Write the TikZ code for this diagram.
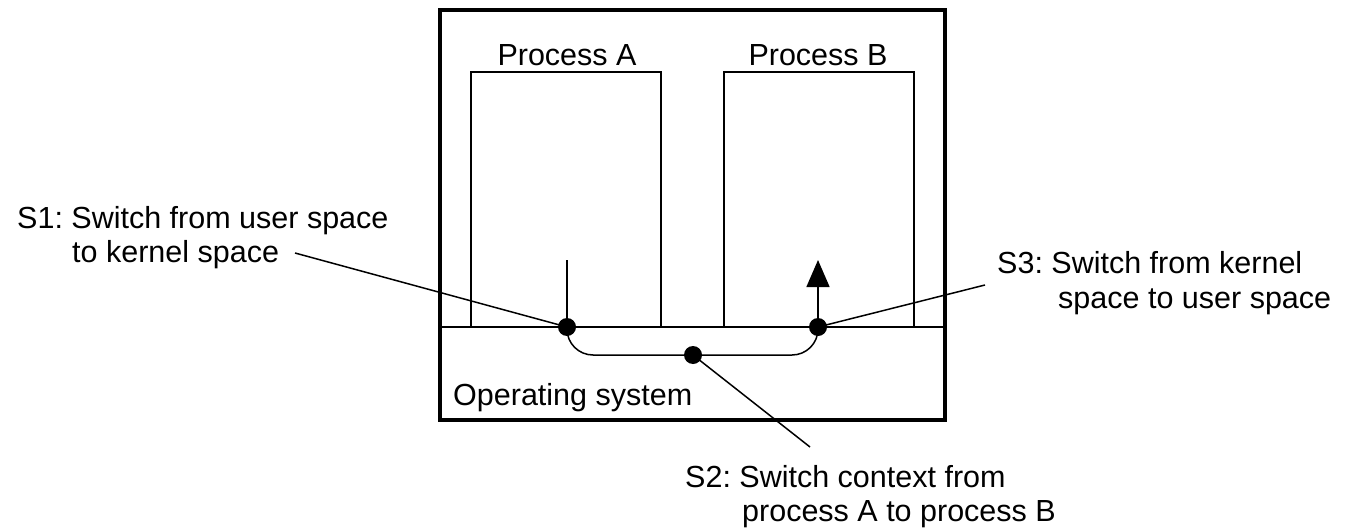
\documentclass[tikz,border=0pt]{standalone}
\usepackage{fontspec}
\setmainfont{Liberation Sans}
\usetikzlibrary{arrows.meta}
\frenchspacing
\begin{document}
\begin{tikzpicture}[x=1pt,y=-1pt,
  lbl/.style={anchor=base west,inner sep=0pt,font=\fontsize{30.5}{34}\selectfont},
  ptitle/.style={anchor=base,inner sep=0pt,font=\fontsize{30.5}{34}\selectfont},
  dot/.style={circle,fill=black,inner sep=0pt,minimum size=18pt},
  thin line/.style={line width=1.5pt},
  procbox/.style={draw,line width=1.4pt},
  outerbox/.style={draw,line width=4pt}]
\useasboundingbox (0,0) rectangle (1358,530);
% outer machine box
\draw[outerbox] (440,10) rectangle (945,420);
% user/kernel boundary
\coordinate (kl) at (440,327);
\coordinate (kr) at (945,327);
\draw[line width=2pt] (kl) -- (kr);
% process boxes
\draw[procbox] (471,327) -- (471,72) -- (661,72) -- (661,327);
\draw[procbox] (724,327) -- (724,72) -- (914,72) -- (914,327);
\node[ptitle] (pa) at (567,65) {Process A};
\node[ptitle] (pb) at (818,65) {Process B};
\node[lbl] (os) at (453,405) {Operating system};
% switch points
\node[dot] (d1) at (567,327) {};
\node[dot] (d3) at (818,327) {};
\node[dot] (d2) at (693,355) {};
\coordinate (a1) at (567,260);
\coordinate (b1) at (818,260);
\draw[thin line] (a1) -- (d1.center);
\draw[thin line,-{Triangle[length=27pt,width=23pt]}] (d3.center) -- (b1);
\draw[thin line,rounded corners=26pt] (d1.center) -- (567,355) -- (818,355) -- (d3.center);
% labels
\node[lbl] (s1a) at (17,228) {S1: Switch from user space};
\node[lbl] (s1b) at (72,262) {to kernel space};
\node[lbl] (s3a) at (997,273) {S3: Switch from kernel};
\node[lbl] (s3b) at (1058,308) {space to user space};
\node[lbl] (s2a) at (685,487) {S2: Switch context from};
\node[lbl] (s2b) at (742,521) {process A to process B};
% leader lines
\coordinate (s1end) at (295,253);
\coordinate (s3end) at (985,285);
\coordinate (s2end) at (810,447);
\draw[thin line] (s1end) -- (d1.center);
\draw[thin line] (s3end) -- (d3.center);
\draw[thin line] (s2end) -- (d2.center);
\end{tikzpicture}
\end{document}
